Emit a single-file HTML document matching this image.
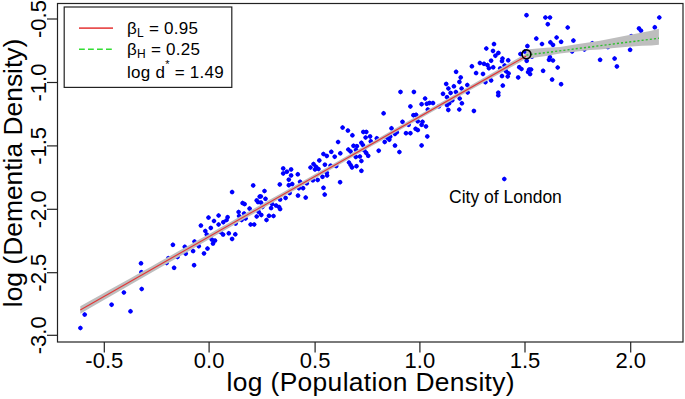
<!DOCTYPE html>
<html><head><meta charset="utf-8">
<style>
html,body{margin:0;padding:0;background:#fff;}
body{width:685px;height:399px;overflow:hidden;}
svg{display:block;}
text{font-family:"Liberation Sans",sans-serif;fill:#000;}
</style></head>
<body>
<svg width="685" height="399" viewBox="0 0 685 399">
<rect x="0" y="0" width="685" height="399" fill="#fff"/>
<!-- DOTS -->
<g id="dots" fill="#0000ff"><path d="M87.20 314.6L86.32 316.22L84.7 317.10L83.08 316.22L82.20 314.6L83.08 312.98L84.7 312.10L86.32 312.98ZM82.90 328.0L82.02 329.62L80.4 330.50L78.78 329.62L77.90 328.0L78.78 326.38L80.4 325.50L82.02 326.38ZM114.10 304.7L113.22 306.32L111.6 307.20L109.98 306.32L109.10 304.7L109.98 303.08L111.6 302.20L113.22 303.08ZM126.40 292.5L125.52 294.12L123.9 295.00L122.28 294.12L121.40 292.5L122.28 290.88L123.9 290.00L125.52 290.88ZM133.00 311.3L132.12 312.92L130.5 313.80L128.88 312.92L128.00 311.3L128.88 309.68L130.5 308.80L132.12 309.68ZM144.20 289.0L143.32 290.62L141.7 291.50L140.08 290.62L139.20 289.0L140.08 287.38L141.7 286.50L143.32 287.38ZM143.50 263.3L142.62 264.92L141.0 265.80L139.38 264.92L138.50 263.3L139.38 261.68L141.0 260.80L142.62 261.68ZM143.90 272.2L143.02 273.82L141.4 274.70L139.78 273.82L138.90 272.2L139.78 270.58L141.4 269.70L143.02 270.58ZM170.90 258.2L170.02 259.82L168.4 260.70L166.78 259.82L165.90 258.2L166.78 256.58L168.4 255.70L170.02 256.58ZM169.10 262.9L168.22 264.52L166.6 265.40L164.98 264.52L164.10 262.9L164.98 261.28L166.6 260.40L168.22 261.28ZM176.60 267.8L175.72 269.42L174.1 270.30L172.48 269.42L171.60 267.8L172.48 266.18L174.1 265.30L175.72 266.18ZM175.40 244.8L174.52 246.42L172.9 247.30L171.28 246.42L170.40 244.8L171.28 243.18L172.9 242.30L174.52 243.18ZM180.00 256.9L179.12 258.52L177.5 259.40L175.88 258.52L175.00 256.9L175.88 255.28L177.5 254.40L179.12 255.28ZM187.30 246.8L186.42 248.42L184.8 249.30L183.18 248.42L182.30 246.8L183.18 245.18L184.8 244.30L186.42 245.18ZM188.20 253.7L187.32 255.32L185.7 256.20L184.08 255.32L183.20 253.7L184.08 252.08L185.7 251.20L187.32 252.08ZM195.60 251.1L194.72 252.72L193.1 253.60L191.48 252.72L190.60 251.1L191.48 249.48L193.1 248.60L194.72 249.48ZM196.60 265.2L195.72 266.82L194.1 267.70L192.48 266.82L191.60 265.2L192.48 263.58L194.1 262.70L195.72 263.58ZM197.00 241.5L196.12 243.12L194.5 244.00L192.88 243.12L192.00 241.5L192.88 239.88L194.5 239.00L196.12 239.88ZM201.30 246.2L200.42 247.82L198.8 248.70L197.18 247.82L196.30 246.2L197.18 244.58L198.8 243.70L200.42 244.58ZM206.50 253.4L205.62 255.02L204.0 255.90L202.38 255.02L201.50 253.4L202.38 251.78L204.0 250.90L205.62 251.78ZM210.00 248.6L209.12 250.22L207.5 251.10L205.88 250.22L205.00 248.6L205.88 246.98L207.5 246.10L209.12 246.98ZM203.40 225.6L202.52 227.22L200.9 228.10L199.28 227.22L198.40 225.6L199.28 223.98L200.9 223.10L202.52 223.98ZM207.80 231.0L206.92 232.62L205.3 233.50L203.68 232.62L202.80 231.0L203.68 229.38L205.3 228.50L206.92 229.38ZM211.00 217.6L210.12 219.22L208.5 220.10L206.88 219.22L206.00 217.6L206.88 215.98L208.5 215.10L210.12 215.98ZM213.30 227.9L212.42 229.52L210.8 230.40L209.18 229.52L208.30 227.9L209.18 226.28L210.8 225.40L212.42 226.28ZM216.50 221.0L215.62 222.62L214.0 223.50L212.38 222.62L211.50 221.0L212.38 219.38L214.0 218.50L215.62 219.38ZM221.10 215.5L220.22 217.12L218.6 218.00L216.98 217.12L216.10 215.5L216.98 213.88L218.6 213.00L220.22 213.88ZM221.10 224.5L220.22 226.12L218.6 227.00L216.98 226.12L216.10 224.5L216.98 222.88L218.6 222.00L220.22 222.88ZM225.80 222.2L224.92 223.82L223.3 224.70L221.68 223.82L220.80 222.2L221.68 220.58L223.3 219.70L224.92 220.58ZM229.10 220.0L228.22 221.62L226.6 222.50L224.98 221.62L224.10 220.0L224.98 218.38L226.6 217.50L228.22 218.38ZM230.10 217.2L229.22 218.82L227.6 219.70L225.98 218.82L225.10 217.2L225.98 215.58L227.6 214.70L229.22 215.58ZM209.30 234.6L208.42 236.22L206.8 237.10L205.18 236.22L204.30 234.6L205.18 232.98L206.8 232.10L208.42 232.98ZM214.30 239.6L213.42 241.22L211.8 242.10L210.18 241.22L209.30 239.6L210.18 237.98L211.8 237.10L213.42 237.98ZM217.50 240.6L216.62 242.22L215.0 243.10L213.38 242.22L212.50 240.6L213.38 238.98L215.0 238.10L216.62 238.98ZM215.50 243.6L214.62 245.22L213.0 246.10L211.38 245.22L210.50 243.6L211.38 241.98L213.0 241.10L214.62 241.98ZM222.90 232.0L222.02 233.62L220.4 234.50L218.78 233.62L217.90 232.0L218.78 230.38L220.4 229.50L222.02 230.38ZM225.60 234.6L224.72 236.22L223.1 237.10L221.48 236.22L220.60 234.6L221.48 232.98L223.1 232.10L224.72 232.98ZM231.30 233.3L230.42 234.92L228.8 235.80L227.18 234.92L226.30 233.3L227.18 231.68L228.8 230.80L230.42 231.68ZM234.60 238.9L233.72 240.52L232.1 241.40L230.48 240.52L229.60 238.9L230.48 237.28L232.1 236.40L233.72 237.28ZM237.80 234.3L236.92 235.92L235.3 236.80L233.68 235.92L232.80 234.3L233.68 232.68L235.3 231.80L236.92 232.68ZM238.10 223.6L237.22 225.22L235.6 226.10L233.98 225.22L233.10 223.6L233.98 221.98L235.6 221.10L237.22 221.98ZM241.10 212.0L240.22 213.62L238.6 214.50L236.98 213.62L236.10 212.0L236.98 210.38L238.6 209.50L240.22 210.38ZM241.60 216.0L240.72 217.62L239.1 218.50L237.48 217.62L236.60 216.0L237.48 214.38L239.1 213.50L240.72 214.38ZM244.10 220.0L243.22 221.62L241.6 222.50L239.98 221.62L239.10 220.0L239.98 218.38L241.6 217.50L243.22 218.38ZM246.60 213.5L245.72 215.12L244.1 216.00L242.48 215.12L241.60 213.5L242.48 211.88L244.1 211.00L245.72 211.88ZM248.10 218.5L247.22 220.12L245.6 221.00L243.98 220.12L243.10 218.5L243.98 216.88L245.6 216.00L247.22 216.88ZM253.10 224.5L252.22 226.12L250.6 227.00L248.98 226.12L248.10 224.5L248.98 222.88L250.6 222.00L252.22 222.88ZM256.70 224.5L255.82 226.12L254.2 227.00L252.58 226.12L251.70 224.5L252.58 222.88L254.2 222.00L255.82 222.88ZM259.20 216.5L258.32 218.12L256.7 219.00L255.08 218.12L254.20 216.5L255.08 214.88L256.7 214.00L258.32 214.88ZM261.20 211.9L260.32 213.52L258.7 214.40L257.08 213.52L256.20 211.9L257.08 210.28L258.7 209.40L260.32 210.28ZM234.60 192.1L233.72 193.72L232.1 194.60L230.48 193.72L229.60 192.1L230.48 190.48L232.1 189.60L233.72 190.48ZM255.70 185.4L254.82 187.02L253.2 187.90L251.58 187.02L250.70 185.4L251.58 183.78L253.2 182.90L254.82 183.78ZM245.10 203.1L244.22 204.72L242.6 205.60L240.98 204.72L240.10 203.1L240.98 201.48L242.6 200.60L244.22 201.48ZM247.10 204.1L246.22 205.72L244.6 206.60L242.98 205.72L242.10 204.1L242.98 202.48L244.6 201.60L246.22 202.48ZM252.10 208.6L251.22 210.22L249.6 211.10L247.98 210.22L247.10 208.6L247.98 206.98L249.6 206.10L251.22 206.98ZM259.20 200.4L258.32 202.02L256.7 202.90L255.08 202.02L254.20 200.4L255.08 198.78L256.7 197.90L258.32 198.78ZM260.50 202.1L259.62 203.72L258.0 204.60L256.38 203.72L255.50 202.1L256.38 200.48L258.0 199.60L259.62 200.48ZM262.20 196.6L261.32 198.22L259.7 199.10L258.08 198.22L257.20 196.6L258.08 194.98L259.7 194.10L261.32 194.98ZM269.00 220.0L268.12 221.62L266.5 222.50L264.88 221.62L264.00 220.0L264.88 218.38L266.5 217.50L268.12 218.38ZM271.50 215.8L270.62 217.42L269.0 218.30L267.38 217.42L266.50 215.8L267.38 214.18L269.0 213.30L270.62 214.18ZM276.00 216.0L275.12 217.62L273.5 218.50L271.88 217.62L271.00 216.0L271.88 214.38L273.5 213.50L275.12 214.38ZM267.00 191.0L266.12 192.62L264.5 193.50L262.88 192.62L262.00 191.0L262.88 189.38L264.5 188.50L266.12 189.38ZM263.30 196.4L262.42 198.02L260.8 198.90L259.18 198.02L258.30 196.4L259.18 194.78L260.8 193.90L262.42 194.78ZM268.00 198.8L267.12 200.42L265.5 201.30L263.88 200.42L263.00 198.8L263.88 197.18L265.5 196.30L267.12 197.18ZM263.50 202.6L262.62 204.22L261.0 205.10L259.38 204.22L258.50 202.6L259.38 200.98L261.0 200.10L262.62 200.98ZM263.80 214.9L262.92 216.52L261.3 217.40L259.68 216.52L258.80 214.9L259.68 213.28L261.3 212.40L262.92 213.28ZM273.60 208.1L272.72 209.72L271.1 210.60L269.48 209.72L268.60 208.1L269.48 206.48L271.1 205.60L272.72 206.48ZM274.60 204.1L273.72 205.72L272.1 206.60L270.48 205.72L269.60 204.1L270.48 202.48L272.1 201.60L273.72 202.48ZM278.60 205.6L277.72 207.22L276.1 208.10L274.48 207.22L273.60 205.6L274.48 203.98L276.1 203.10L277.72 203.98ZM281.60 207.1L280.72 208.72L279.1 209.60L277.48 208.72L276.60 207.1L277.48 205.48L279.1 204.60L280.72 205.48ZM282.60 209.1L281.72 210.72L280.1 211.60L278.48 210.72L277.60 209.1L278.48 207.48L280.1 206.60L281.72 207.48ZM282.60 199.6L281.72 201.22L280.1 202.10L278.48 201.22L277.60 199.6L278.48 197.98L280.1 197.10L281.72 197.98ZM288.10 197.9L287.22 199.52L285.6 200.40L283.98 199.52L283.10 197.9L283.98 196.28L285.6 195.40L287.22 196.28ZM292.10 193.1L291.22 194.72L289.6 195.60L287.98 194.72L287.10 193.1L287.98 191.48L289.6 190.60L291.22 191.48ZM300.50 195.6L299.62 197.22L298.0 198.10L296.38 197.22L295.50 195.6L296.38 193.98L298.0 193.10L299.62 193.98ZM308.20 197.6L307.32 199.22L305.7 200.10L304.08 199.22L303.20 197.6L304.08 195.98L305.7 195.10L307.32 195.98ZM285.70 168.4L284.82 170.02L283.2 170.90L281.58 170.02L280.70 168.4L281.58 166.78L283.2 165.90L284.82 166.78ZM293.60 169.4L292.72 171.02L291.1 171.90L289.48 171.02L288.60 169.4L289.48 167.78L291.1 166.90L292.72 167.78ZM285.70 173.4L284.82 175.02L283.2 175.90L281.58 175.02L280.70 173.4L281.58 171.78L283.2 170.90L284.82 171.78ZM289.40 171.7L288.52 173.32L286.9 174.20L285.28 173.32L284.40 171.7L285.28 170.08L286.9 169.20L288.52 170.08ZM293.60 175.4L292.72 177.02L291.1 177.90L289.48 177.02L288.60 175.4L289.48 173.78L291.1 172.90L292.72 173.78ZM300.30 174.3L299.42 175.92L297.8 176.80L296.18 175.92L295.30 174.3L296.18 172.68L297.8 171.80L299.42 172.68ZM291.30 179.7L290.42 181.32L288.8 182.20L287.18 181.32L286.30 179.7L287.18 178.08L288.8 177.20L290.42 178.08ZM282.30 184.4L281.42 186.02L279.8 186.90L278.18 186.02L277.30 184.4L278.18 182.78L279.8 181.90L281.42 182.78ZM291.30 185.2L290.42 186.82L288.8 187.70L287.18 186.82L286.30 185.2L287.18 183.58L288.8 182.70L290.42 183.58ZM294.70 184.1L293.82 185.72L292.2 186.60L290.58 185.72L289.70 184.1L290.58 182.48L292.2 181.60L293.82 182.48ZM302.60 181.8L301.72 183.42L300.1 184.30L298.48 183.42L297.60 181.8L298.48 180.18L300.1 179.30L301.72 180.18ZM301.40 188.2L300.52 189.82L298.9 190.70L297.28 189.82L296.40 188.2L297.28 186.58L298.9 185.70L300.52 186.58ZM305.60 188.2L304.72 189.82L303.1 190.70L301.48 189.82L300.60 188.2L301.48 186.58L303.1 185.70L304.72 186.58ZM309.30 183.3L308.42 184.92L306.8 185.80L305.18 184.92L304.30 183.3L305.18 181.68L306.8 180.80L308.42 181.68ZM315.40 180.3L314.52 181.92L312.9 182.80L311.28 181.92L310.40 180.3L311.28 178.68L312.9 177.80L314.52 178.68ZM320.20 179.9L319.32 181.52L317.7 182.40L316.08 181.52L315.20 179.9L316.08 178.28L317.7 177.40L319.32 178.28ZM264.90 207.0L264.02 208.62L262.4 209.50L260.78 208.62L259.90 207.0L260.78 205.38L262.4 204.50L264.02 205.38ZM325.00 176.8L324.12 178.42L322.5 179.30L320.88 178.42L320.00 176.8L320.88 175.18L322.5 174.30L324.12 175.18ZM329.60 175.5L328.72 177.12L327.1 178.00L325.48 177.12L324.60 175.5L325.48 173.88L327.1 173.00L328.72 173.88ZM326.00 187.8L325.12 189.42L323.5 190.30L321.88 189.42L321.00 187.8L321.88 186.18L323.5 185.30L325.12 186.18ZM327.20 194.6L326.32 196.22L324.7 197.10L323.08 196.22L322.20 194.6L323.08 192.98L324.7 192.10L326.32 192.98ZM342.60 182.2L341.72 183.82L340.1 184.70L338.48 183.82L337.60 182.2L338.48 180.58L340.1 179.70L341.72 180.58ZM325.90 154.0L325.02 155.62L323.4 156.50L321.78 155.62L320.90 154.0L321.78 152.38L323.4 151.50L325.02 152.38ZM329.30 155.9L328.42 157.52L326.8 158.40L325.18 157.52L324.30 155.9L325.18 154.28L326.8 153.40L328.42 154.28ZM333.80 151.8L332.92 153.42L331.3 154.30L329.68 153.42L328.80 151.8L329.68 150.18L331.3 149.30L332.92 150.18ZM337.20 156.7L336.32 158.32L334.7 159.20L333.08 158.32L332.20 156.7L333.08 155.08L334.7 154.20L336.32 155.08ZM342.80 153.3L341.92 154.92L340.3 155.80L338.68 154.92L337.80 153.3L338.68 151.68L340.3 150.80L341.92 151.68ZM321.80 160.4L320.92 162.02L319.3 162.90L317.68 162.02L316.80 160.4L317.68 158.78L319.3 157.90L320.92 158.78ZM327.40 164.7L326.52 166.32L324.9 167.20L323.28 166.32L322.40 164.7L323.28 163.08L324.9 162.20L326.52 163.08ZM316.00 164.0L315.12 165.62L313.5 166.50L311.88 165.62L311.00 164.0L311.88 162.38L313.5 161.50L315.12 162.38ZM313.00 167.5L312.12 169.12L310.5 170.00L308.88 169.12L308.00 167.5L308.88 165.88L310.5 165.00L312.12 165.88ZM317.50 169.5L316.62 171.12L315.0 172.00L313.38 171.12L312.50 169.5L313.38 167.88L315.0 167.00L316.62 167.88ZM321.00 169.0L320.12 170.62L318.5 171.50L316.88 170.62L316.00 169.0L316.88 167.38L318.5 166.50L320.12 167.38ZM333.10 165.7L332.22 167.32L330.6 168.20L328.98 167.32L328.10 165.7L328.98 164.08L330.6 163.20L332.22 164.08ZM338.70 166.1L337.82 167.72L336.2 168.60L334.58 167.72L333.70 166.1L334.58 164.48L336.2 163.60L337.82 164.48ZM329.30 172.8L328.42 174.42L326.8 175.30L325.18 174.42L324.30 172.8L325.18 171.18L326.8 170.30L328.42 171.18ZM340.60 142.0L339.72 143.62L338.1 144.50L336.48 143.62L335.60 142.0L336.48 140.38L338.1 139.50L339.72 140.38ZM350.40 130.6L349.52 132.22L347.9 133.10L346.28 132.22L345.40 130.6L346.28 128.98L347.9 128.10L349.52 128.98ZM354.90 135.3L354.02 136.92L352.4 137.80L350.78 136.92L349.90 135.3L350.78 133.68L352.4 132.80L354.02 133.68ZM365.80 131.9L364.92 133.52L363.3 134.40L361.68 133.52L360.80 131.9L361.68 130.28L363.3 129.40L364.92 130.28ZM368.80 131.9L367.92 133.52L366.3 134.40L364.68 133.52L363.80 131.9L364.68 130.28L366.3 129.40L367.92 130.28ZM368.10 137.5L367.22 139.12L365.6 140.00L363.98 139.12L363.10 137.5L363.98 135.88L365.6 135.00L367.22 135.88ZM372.60 136.4L371.72 138.02L370.1 138.90L368.48 138.02L367.60 136.4L368.48 134.78L370.1 133.90L371.72 134.78ZM373.30 141.3L372.42 142.92L370.8 143.80L369.18 142.92L368.30 141.3L369.18 139.68L370.8 138.80L372.42 139.68ZM379.30 138.3L378.42 139.92L376.8 140.80L375.18 139.92L374.30 138.3L375.18 136.68L376.8 135.80L378.42 136.68ZM363.90 142.8L363.02 144.42L361.4 145.30L359.78 144.42L358.90 142.8L359.78 141.18L361.4 140.30L363.02 141.18ZM365.40 145.0L364.52 146.62L362.9 147.50L361.28 146.62L360.40 145.0L361.28 143.38L362.9 142.50L364.52 143.38ZM356.00 145.8L355.12 147.42L353.5 148.30L351.88 147.42L351.00 145.8L351.88 144.18L353.5 143.30L355.12 144.18ZM359.40 146.2L358.52 147.82L356.9 148.70L355.28 147.82L354.40 146.2L355.28 144.58L356.9 143.70L358.52 144.58ZM350.80 149.5L349.92 151.12L348.3 152.00L346.68 151.12L345.80 149.5L346.68 147.88L348.3 147.00L349.92 147.88ZM353.00 151.4L352.12 153.02L350.5 153.90L348.88 153.02L348.00 151.4L348.88 149.78L350.5 148.90L352.12 149.78ZM366.80 150.5L365.92 152.12L364.3 153.00L362.68 152.12L361.80 150.5L362.68 148.88L364.3 148.00L365.92 148.88ZM381.20 150.7L380.32 152.32L378.7 153.20L377.08 152.32L376.20 150.7L377.08 149.08L378.7 148.20L380.32 149.08ZM351.50 162.5L350.62 164.12L349.0 165.00L347.38 164.12L346.50 162.5L347.38 160.88L349.0 160.00L350.62 160.88ZM354.50 167.4L353.62 169.02L352.0 169.90L350.38 169.02L349.50 167.4L350.38 165.78L352.0 164.90L353.62 165.78ZM359.00 166.2L358.12 167.82L356.5 168.70L354.88 167.82L354.00 166.2L354.88 164.58L356.5 163.70L358.12 164.58ZM363.90 170.8L363.02 172.42L361.4 173.30L359.78 172.42L358.90 170.8L359.78 169.18L361.4 168.30L363.02 169.18ZM358.30 156.9L357.42 158.52L355.8 159.40L354.18 158.52L353.30 156.9L354.18 155.28L355.8 154.40L357.42 155.28ZM362.40 156.5L361.52 158.12L359.9 159.00L358.28 158.12L357.40 156.5L358.28 154.88L359.9 154.00L361.52 154.88ZM363.90 161.0L363.02 162.62L361.4 163.50L359.78 162.62L358.90 161.0L359.78 159.38L361.4 158.50L363.02 159.38ZM370.70 155.8L369.82 157.42L368.2 158.30L366.58 157.42L365.70 155.8L366.58 154.18L368.2 153.30L369.82 154.18ZM387.20 141.9L386.32 143.52L384.7 144.40L383.08 143.52L382.20 141.9L383.08 140.28L384.7 139.40L386.32 140.28ZM390.00 138.0L389.12 139.62L387.5 140.50L385.88 139.62L385.00 138.0L385.88 136.38L387.5 135.50L389.12 136.38ZM392.70 136.7L391.82 138.32L390.2 139.20L388.58 138.32L387.70 136.7L388.58 135.08L390.2 134.20L391.82 135.08ZM391.80 139.7L390.92 141.32L389.3 142.20L387.68 141.32L386.80 139.7L387.68 138.08L389.3 137.20L390.92 138.08ZM394.00 128.3L393.12 129.92L391.5 130.80L389.88 129.92L389.00 128.3L389.88 126.68L391.5 125.80L393.12 126.68ZM397.50 134.0L396.62 135.62L395.0 136.50L393.38 135.62L392.50 134.0L393.38 132.38L395.0 131.50L396.62 132.38ZM399.30 132.3L398.42 133.92L396.8 134.80L395.18 133.92L394.30 132.3L395.18 130.68L396.8 129.80L398.42 130.68ZM397.50 145.6L396.62 147.22L395.0 148.10L393.38 147.22L392.50 145.6L393.38 143.98L395.0 143.10L396.62 143.98ZM401.90 152.0L401.02 153.62L399.4 154.50L397.78 153.62L396.90 152.0L397.78 150.38L399.4 149.50L401.02 150.38ZM405.00 121.8L404.12 123.42L402.5 124.30L400.88 123.42L400.00 121.8L400.88 120.18L402.5 119.30L404.12 120.18ZM408.50 133.2L407.62 134.82L406.0 135.70L404.38 134.82L403.50 133.2L404.38 131.58L406.0 130.70L407.62 131.58ZM412.90 133.2L412.02 134.82L410.4 135.70L408.78 134.82L407.90 133.2L408.78 131.58L410.4 130.70L412.02 131.58ZM411.10 124.8L410.22 126.42L408.6 127.30L406.98 126.42L406.10 124.8L406.98 123.18L408.6 122.30L410.22 123.18ZM418.10 128.8L417.22 130.42L415.6 131.30L413.98 130.42L413.10 128.8L413.98 127.18L415.6 126.30L417.22 127.18ZM420.30 130.1L419.42 131.72L417.8 132.60L416.18 131.72L415.30 130.1L416.18 128.48L417.8 127.60L419.42 128.48ZM420.30 121.3L419.42 122.92L417.8 123.80L416.18 122.92L415.30 121.3L416.18 119.68L417.8 118.80L419.42 119.68ZM424.10 145.4L423.22 147.02L421.6 147.90L419.98 147.02L419.10 145.4L419.98 143.78L421.6 142.90L423.22 143.78ZM403.00 91.9L402.12 93.52L400.5 94.40L398.88 93.52L398.00 91.9L398.88 90.28L400.5 89.40L402.12 90.28ZM416.40 91.9L415.52 93.52L413.9 94.40L412.28 93.52L411.40 91.9L412.28 90.28L413.9 89.40L415.52 90.28ZM412.90 106.4L412.02 108.02L410.4 108.90L408.78 108.02L407.90 106.4L408.78 104.78L410.4 103.90L412.02 104.78ZM386.10 113.3L385.22 114.92L383.6 115.80L381.98 114.92L381.10 113.3L381.98 111.68L383.6 110.80L385.22 111.68ZM415.90 115.2L415.02 116.82L413.4 117.70L411.78 116.82L410.90 115.2L411.78 113.58L413.4 112.70L415.02 113.58ZM418.60 114.8L417.72 116.42L416.1 117.30L414.48 116.42L413.60 114.8L414.48 113.18L416.1 112.30L417.72 113.18ZM427.60 98.5L426.72 100.12L425.1 101.00L423.48 100.12L422.60 98.5L423.48 96.88L425.1 96.00L426.72 96.88ZM424.10 104.2L423.22 105.82L421.6 106.70L419.98 105.82L419.10 104.2L419.98 102.58L421.6 101.70L423.22 102.58ZM429.30 103.8L428.42 105.42L426.8 106.30L425.18 105.42L424.30 103.8L425.18 102.18L426.8 101.30L428.42 102.18ZM432.00 102.9L431.12 104.52L429.5 105.40L427.88 104.52L427.00 102.9L427.88 101.28L429.5 100.40L431.12 101.28ZM435.50 103.1L434.62 104.72L433.0 105.60L431.38 104.72L430.50 103.1L431.38 101.48L433.0 100.60L434.62 101.48ZM430.30 109.6L429.42 111.22L427.8 112.10L426.18 111.22L425.30 109.6L426.18 107.98L427.8 107.10L429.42 107.98ZM441.40 106.3L440.52 107.92L438.9 108.80L437.28 107.92L436.40 106.3L437.28 104.68L438.9 103.80L440.52 104.68ZM449.50 97.2L448.62 98.82L447.0 99.70L445.38 98.82L444.50 97.2L445.38 95.58L447.0 94.70L448.62 95.58ZM451.70 103.3L450.82 104.92L449.2 105.80L447.58 104.92L446.70 103.3L447.58 101.68L449.2 100.80L450.82 101.68ZM449.50 105.1L448.62 106.72L447.0 107.60L445.38 106.72L444.50 105.1L445.38 103.48L447.0 102.60L448.62 103.48ZM450.80 109.9L449.92 111.52L448.3 112.40L446.68 111.52L445.80 109.9L446.68 108.28L448.3 107.40L449.92 108.28ZM454.80 100.3L453.92 101.92L452.3 102.80L450.68 101.92L449.80 100.3L450.68 98.68L452.3 97.80L453.92 98.68ZM462.20 98.5L461.32 100.12L459.7 101.00L458.08 100.12L457.20 98.5L458.08 96.88L459.7 96.00L461.32 96.88ZM464.40 103.3L463.52 104.92L461.9 105.80L460.28 104.92L459.40 103.3L460.28 101.68L461.9 100.80L463.52 101.68ZM461.80 109.5L460.92 111.12L459.3 112.00L457.68 111.12L456.80 109.5L457.68 107.88L459.3 107.00L460.92 107.88ZM425.00 121.8L424.12 123.42L422.5 124.30L420.88 123.42L420.00 121.8L420.88 120.18L422.5 119.30L424.12 120.18ZM424.10 124.8L423.22 126.42L421.6 127.30L419.98 126.42L419.10 124.8L419.98 123.18L421.6 122.30L423.22 123.18ZM428.50 126.4L427.62 128.02L426.0 128.90L424.38 128.02L423.50 126.4L424.38 124.78L426.0 123.90L427.62 124.78ZM429.80 136.4L428.92 138.02L427.3 138.90L425.68 138.02L424.80 136.4L425.68 134.78L427.3 133.90L428.92 134.78ZM458.60 71.8L457.72 73.42L456.1 74.30L454.48 73.42L453.60 71.8L454.48 70.18L456.1 69.30L457.72 70.18ZM463.20 77.4L462.32 79.02L460.7 79.90L459.08 79.02L458.20 77.4L459.08 75.78L460.7 74.90L462.32 75.78ZM461.90 81.9L461.02 83.52L459.4 84.40L457.78 83.52L456.90 81.9L457.78 80.28L459.4 79.40L461.02 80.28ZM448.70 83.9L447.82 85.52L446.2 86.40L444.58 85.52L443.70 83.9L444.58 82.28L446.2 81.40L447.82 82.28ZM450.90 88.5L450.02 90.12L448.4 91.00L446.78 90.12L445.90 88.5L446.78 86.88L448.4 86.00L450.02 86.88ZM456.40 86.3L455.52 87.92L453.9 88.80L452.28 87.92L451.40 86.3L452.28 84.68L453.9 83.80L455.52 84.68ZM464.10 88.5L463.22 90.12L461.6 91.00L459.98 90.12L459.10 88.5L459.98 86.88L461.6 86.00L463.22 86.88ZM469.80 85.0L468.92 86.62L467.3 87.50L465.68 86.62L464.80 85.0L465.68 83.38L467.3 82.50L468.92 83.38ZM445.50 93.8L444.62 95.42L443.0 96.30L441.38 95.42L440.50 93.8L441.38 92.18L443.0 91.30L444.62 92.18ZM453.10 92.9L452.22 94.52L450.6 95.40L448.98 94.52L448.10 92.9L448.98 91.28L450.6 90.40L452.22 91.28ZM458.40 92.0L457.52 93.62L455.9 94.50L454.28 93.62L453.40 92.0L454.28 90.38L455.9 89.50L457.52 90.38ZM470.20 92.5L469.32 94.12L467.7 95.00L466.08 94.12L465.20 92.5L466.08 90.88L467.7 90.00L469.32 90.88ZM474.40 66.3L473.52 67.92L471.9 68.80L470.28 67.92L469.40 66.3L470.28 64.68L471.9 63.80L473.52 64.68ZM478.60 73.1L477.72 74.72L476.1 75.60L474.48 74.72L473.60 73.1L474.48 71.48L476.1 70.60L477.72 71.48ZM482.40 63.0L481.52 64.62L479.9 65.50L478.28 64.62L477.40 63.0L478.28 61.38L479.9 60.50L481.52 61.38ZM476.40 110.9L475.52 112.52L473.9 113.40L472.28 112.52L471.40 110.9L472.28 109.28L473.9 108.40L475.52 109.28ZM500.80 92.7L499.92 94.32L498.3 95.20L496.68 94.32L495.80 92.7L496.68 91.08L498.3 90.20L499.92 91.08ZM500.80 95.3L499.92 96.92L498.3 97.80L496.68 96.92L495.80 95.3L496.68 93.68L498.3 92.80L499.92 93.68ZM505.30 85.6L504.42 87.22L502.8 88.10L501.18 87.22L500.30 85.6L501.18 83.98L502.8 83.10L504.42 83.98ZM485.50 73.9L484.62 75.52L483.0 76.40L481.38 75.52L480.50 73.9L481.38 72.28L483.0 71.40L484.62 72.28ZM486.50 63.8L485.62 65.42L484.0 66.30L482.38 65.42L481.50 63.8L482.38 62.18L484.0 61.30L485.62 62.18ZM490.00 65.1L489.12 66.72L487.5 67.60L485.88 66.72L485.00 65.1L485.88 63.48L487.5 62.60L489.12 63.48ZM491.40 68.2L490.52 69.82L488.9 70.70L487.28 69.82L486.40 68.2L487.28 66.58L488.9 65.70L490.52 66.58ZM495.70 67.3L494.82 68.92L493.2 69.80L491.58 68.92L490.70 67.3L491.58 65.68L493.2 64.80L494.82 65.68ZM493.60 60.7L492.72 62.32L491.1 63.20L489.48 62.32L488.60 60.7L489.48 59.08L491.1 58.20L492.72 59.08ZM497.90 55.7L497.02 57.32L495.4 58.20L493.78 57.32L492.90 55.7L493.78 54.08L495.4 53.20L497.02 54.08ZM505.00 58.5L504.12 60.12L502.5 61.00L500.88 60.12L500.00 58.5L500.88 56.88L502.5 56.00L504.12 56.88ZM504.50 61.1L503.62 62.72L502.0 63.60L500.38 62.72L499.50 61.1L500.38 59.48L502.0 58.60L503.62 59.48ZM510.70 60.3L509.82 61.92L508.2 62.80L506.58 61.92L505.70 60.3L506.58 58.68L508.2 57.80L509.82 58.68ZM502.70 68.4L501.82 70.02L500.2 70.90L498.58 70.02L497.70 68.4L498.58 66.78L500.2 65.90L501.82 66.78ZM507.10 65.6L506.22 67.22L504.6 68.10L502.98 67.22L502.10 65.6L502.98 63.98L504.6 63.10L506.22 63.98ZM487.90 82.2L487.02 83.82L485.4 84.70L483.78 83.82L482.90 82.2L483.78 80.58L485.4 79.70L487.02 80.58ZM493.60 80.4L492.72 82.02L491.1 82.90L489.48 82.02L488.60 80.4L489.48 78.78L491.1 77.90L492.72 78.78ZM504.50 76.1L503.62 77.72L502.0 78.60L500.38 77.72L499.50 76.1L500.38 74.48L502.0 73.60L503.62 74.48ZM508.50 71.2L507.62 72.82L506.0 73.70L504.38 72.82L503.50 71.2L504.38 69.58L506.0 68.70L507.62 69.58ZM511.10 73.4L510.22 75.02L508.6 75.90L506.98 75.02L506.10 73.4L506.98 71.78L508.6 70.90L510.22 71.78ZM510.20 76.5L509.32 78.12L507.7 79.00L506.08 78.12L505.20 76.5L506.08 74.88L507.7 74.00L509.32 74.88ZM521.70 67.2L520.82 68.82L519.2 69.70L517.58 68.82L516.70 67.2L517.58 65.58L519.2 64.70L520.82 65.58ZM520.70 77.4L519.82 79.02L518.2 79.90L516.58 79.02L515.70 77.4L516.58 75.78L518.2 74.90L519.82 75.78ZM496.50 44.1L495.62 45.72L494.0 46.60L492.38 45.72L491.50 44.1L492.38 42.48L494.0 41.60L495.62 42.48ZM488.80 48.5L487.92 50.12L486.3 51.00L484.68 50.12L483.80 48.5L484.68 46.88L486.3 46.00L487.92 46.88ZM495.50 50.9L494.62 52.52L493.0 53.40L491.38 52.52L490.50 50.9L491.38 49.28L493.0 48.40L494.62 49.28ZM500.90 52.9L500.02 54.52L498.4 55.40L496.78 54.52L495.90 52.9L496.78 51.28L498.4 50.40L500.02 51.28ZM529.90 46.1L529.02 47.72L527.4 48.60L525.78 47.72L524.90 46.1L525.78 44.48L527.4 43.60L529.02 44.48ZM522.90 54.0L522.02 55.62L520.4 56.50L518.78 55.62L517.90 54.0L518.78 52.38L520.4 51.50L522.02 52.38ZM527.30 51.6L526.42 53.22L524.8 54.10L523.18 53.22L522.30 51.6L523.18 49.98L524.8 49.10L526.42 49.98ZM529.00 15.2L528.12 16.82L526.5 17.70L524.88 16.82L524.00 15.2L524.88 13.58L526.5 12.70L528.12 13.58ZM538.80 38.6L537.92 40.22L536.3 41.10L534.68 40.22L533.80 38.6L534.68 36.98L536.3 36.10L537.92 36.98ZM544.50 44.0L543.62 45.62L542.0 46.50L540.38 45.62L539.50 44.0L540.38 42.38L542.0 41.50L543.62 42.38ZM552.90 42.3L552.02 43.92L550.4 44.80L548.78 43.92L547.90 42.3L548.78 40.68L550.4 39.80L552.02 40.68ZM555.50 44.9L554.62 46.52L553.0 47.40L551.38 46.52L550.50 44.9L551.38 43.28L553.0 42.40L554.62 43.28ZM559.10 37.5L558.22 39.12L556.6 40.00L554.98 39.12L554.10 37.5L554.98 35.88L556.6 35.00L558.22 35.88ZM529.20 60.8L528.32 62.42L526.7 63.30L525.08 62.42L524.20 60.8L525.08 59.18L526.7 58.30L528.32 59.18ZM534.50 56.6L533.62 58.22L532.0 59.10L530.38 58.22L529.50 56.6L530.38 54.98L532.0 54.10L533.62 54.98ZM552.40 57.2L551.52 58.82L549.9 59.70L548.28 58.82L547.40 57.2L548.28 55.58L549.9 54.70L551.52 55.58ZM551.50 59.8L550.62 61.42L549.0 62.30L547.38 61.42L546.50 59.8L547.38 58.18L549.0 57.30L550.62 58.18ZM555.50 60.5L554.62 62.12L553.0 63.00L551.38 62.12L550.50 60.5L551.38 58.88L553.0 58.00L554.62 58.88ZM547.90 17.5L547.02 19.12L545.4 20.00L543.78 19.12L542.90 17.5L543.78 15.88L545.4 15.00L547.02 15.88ZM552.50 17.5L551.62 19.12L550.0 20.00L548.38 19.12L547.50 17.5L548.38 15.88L550.0 15.00L551.62 15.88ZM550.30 24.2L549.42 25.82L547.8 26.70L546.18 25.82L545.30 24.2L546.18 22.58L547.8 21.70L549.42 22.58ZM570.20 27.5L569.32 29.12L567.7 30.00L566.08 29.12L565.20 27.5L566.08 25.88L567.7 25.00L569.32 25.88ZM563.60 41.8L562.72 43.42L561.1 44.30L559.48 43.42L558.60 41.8L559.48 40.18L561.1 39.30L562.72 40.18ZM575.90 40.6L575.02 42.22L573.4 43.10L571.78 42.22L570.90 40.6L571.78 38.98L573.4 38.10L575.02 38.98ZM594.80 43.3L593.92 44.92L592.3 45.80L590.68 44.92L589.80 43.3L590.68 41.68L592.3 40.80L593.92 41.68ZM574.60 51.5L573.72 53.12L572.1 54.00L570.48 53.12L569.60 51.5L570.48 49.88L572.1 49.00L573.72 49.88ZM586.90 49.5L586.02 51.12L584.4 52.00L582.78 51.12L581.90 49.5L582.78 47.88L584.4 47.00L586.02 47.88ZM602.60 59.8L601.72 61.42L600.1 62.30L598.48 61.42L597.60 59.8L598.48 58.18L600.1 57.30L601.72 58.18ZM610.40 47.1L609.52 48.72L607.9 49.60L606.28 48.72L605.40 47.1L606.28 45.48L607.9 44.60L609.52 45.48ZM617.10 58.6L616.22 60.22L614.6 61.10L612.98 60.22L612.10 58.6L612.98 56.98L614.6 56.10L616.22 56.98ZM619.40 66.4L618.52 68.02L616.9 68.90L615.28 68.02L614.40 66.4L615.28 64.78L616.9 63.90L618.52 64.78ZM632.60 49.8L631.72 51.42L630.1 52.30L628.48 51.42L627.60 49.8L628.48 48.18L630.1 47.30L631.72 48.18ZM661.80 17.5L660.92 19.12L659.3 20.00L657.68 19.12L656.80 17.5L657.68 15.88L659.3 15.00L660.92 15.88ZM657.30 27.3L656.42 28.92L654.8 29.80L653.18 28.92L652.30 27.3L653.18 25.68L654.8 24.80L656.42 25.68ZM641.50 28.4L640.62 30.02L639.0 30.90L637.38 30.02L636.50 28.4L637.38 26.78L639.0 25.90L640.62 26.78ZM643.50 30.7L642.62 32.32L641.0 33.20L639.38 32.32L638.50 30.7L639.38 29.08L641.0 28.20L642.62 29.08ZM633.80 36.2L632.92 37.82L631.3 38.70L629.68 37.82L628.80 36.2L629.68 34.58L631.3 33.70L632.92 34.58ZM524.00 69.0L523.12 70.62L521.5 71.50L519.88 70.62L519.00 69.0L519.88 67.38L521.5 66.50L523.12 67.38ZM531.60 69.5L530.72 71.12L529.1 72.00L527.48 71.12L526.60 69.5L527.48 67.88L529.1 67.00L530.72 67.88ZM533.60 69.5L532.72 71.12L531.1 72.00L529.48 71.12L528.60 69.5L529.48 67.88L531.1 67.00L532.72 67.88ZM530.60 72.1L529.72 73.72L528.1 74.60L526.48 73.72L525.60 72.1L526.48 70.48L528.1 69.60L529.72 70.48ZM532.60 74.1L531.72 75.72L530.1 76.60L528.48 75.72L527.60 74.1L528.48 72.48L530.1 71.60L531.72 72.48ZM545.60 70.8L544.72 72.42L543.1 73.30L541.48 72.42L540.60 70.8L541.48 69.18L543.1 68.30L544.72 69.18ZM560.20 67.5L559.32 69.12L557.7 70.00L556.08 69.12L555.20 67.5L556.08 65.88L557.7 65.00L559.32 65.88ZM554.60 79.6L553.72 81.22L552.1 82.10L550.48 81.22L549.60 79.6L550.48 77.98L552.1 77.10L553.72 77.98ZM563.60 84.2L562.72 85.82L561.1 86.70L559.48 85.82L558.60 84.2L559.48 82.58L561.1 81.70L562.72 82.58ZM506.80 179.0L505.92 180.62L504.3 181.50L502.68 180.62L501.80 179.0L502.68 177.38L504.3 176.50L505.92 177.38ZM345.10 127.6L344.22 129.22L342.6 130.10L340.98 129.22L340.10 127.6L340.98 125.98L342.6 125.10L344.22 125.98ZM318.50 166.8L317.62 168.42L316.0 169.30L314.38 168.42L313.50 166.8L314.38 165.18L316.0 164.30L317.62 165.18ZM358.50 149.9L357.62 151.52L356.0 152.40L354.38 151.52L353.50 149.9L354.38 148.28L356.0 147.40L357.62 148.28ZM368.70 152.9L367.82 154.52L366.2 155.40L364.58 154.52L363.70 152.9L364.58 151.28L366.2 150.40L367.82 151.28ZM353.10 165.0L352.22 166.62L350.6 167.50L348.98 166.62L348.10 165.0L348.98 163.38L350.6 162.50L352.22 163.38Z"/></g>
<!-- band -->
<g id="band" fill="#bebebe"><polygon points="80.3,306.28 90.0,300.84 100.0,295.23 110.0,289.61 120.0,284.00 130.0,278.38 140.0,272.77 150.0,267.15 160.0,261.53 170.0,255.91 180.0,250.29 190.0,244.66 200.0,239.04 210.0,233.41 220.0,227.78 230.0,222.15 240.0,216.51 250.0,210.87 260.0,205.23 270.0,199.58 280.0,193.94 290.0,188.28 300.0,182.63 310.0,176.97 320.0,171.30 330.0,165.64 340.0,159.96 350.0,154.29 360.0,148.60 370.0,142.92 380.0,137.22 390.0,131.53 400.0,125.82 410.0,120.12 420.0,114.40 430.0,108.69 440.0,102.96 450.0,97.24 460.0,91.51 470.0,85.77 480.0,80.04 490.0,74.29 500.0,68.55 510.0,62.80 520.0,57.05 526.3,53.42 526.3,58.58 520.0,62.13 510.0,67.77 500.0,73.41 490.0,79.06 480.0,84.71 470.0,90.36 460.0,96.01 450.0,101.67 440.0,107.34 430.0,113.01 420.0,118.68 410.0,124.36 400.0,130.04 390.0,135.73 380.0,141.42 370.0,147.12 360.0,152.82 350.0,158.53 340.0,164.24 330.0,169.96 320.0,175.68 310.0,181.40 300.0,187.13 290.0,192.87 280.0,198.61 270.0,204.35 260.0,210.09 250.0,215.84 240.0,221.59 230.0,227.35 220.0,233.10 210.0,238.86 200.0,244.62 190.0,250.39 180.0,256.15 170.0,261.92 160.0,267.69 150.0,273.46 140.0,279.23 130.0,285.01 120.0,290.78 110.0,296.56 100.0,302.34 90.0,308.11 80.3,313.72"/><polygon points="526.3,49.6 532,49.0 546,47.8 560,46.9 575,44.4 590,42.2 600,40.8 614,38.1 628,35.3 642,32.5 651.4,30.8 658.9,28.7 658.9,44.8 651.4,45.4 642,45.7 628,46.7 614,47.9 600,49.4 590,50.1 575,51.7 560,53.4 546,56.0 532,58.0 526.3,58.7"/></g>
<!-- lines -->
<line x1="80.3" y1="310.0" x2="526.3" y2="56.0" stroke="#e23636" stroke-width="1.15"/>
<line x1="526.3" y1="55.1" x2="658.9" y2="38.2" stroke="#2fbf2f" stroke-width="1.4" stroke-dasharray="2.1,2.05"/>
<circle cx="526.4" cy="54.3" r="4.45" fill="none" stroke="#000" stroke-width="1.7"/>
<!-- City of London -->
<text x="449" y="203.2" font-size="17.5">City of London</text>
<!-- axes box -->
<rect x="57.5" y="3.5" width="625.5" height="338.5" fill="none" stroke="#222" stroke-width="1.2"/>
<!-- x ticks -->
<g stroke="#222" stroke-width="1.2">
<line x1="104.3" y1="342" x2="104.3" y2="352.4"/>
<line x1="209.1" y1="342" x2="209.1" y2="352.4"/>
<line x1="315.1" y1="342" x2="315.1" y2="352.4"/>
<line x1="419.9" y1="342" x2="419.9" y2="352.4"/>
<line x1="525.0" y1="342" x2="525.0" y2="352.4"/>
<line x1="630.7" y1="342" x2="630.7" y2="352.4"/>
<line x1="47" y1="19.0" x2="57.5" y2="19.0"/>
<line x1="47" y1="82.5" x2="57.5" y2="82.5"/>
<line x1="47" y1="145.9" x2="57.5" y2="145.9"/>
<line x1="47" y1="209.3" x2="57.5" y2="209.3"/>
<line x1="47" y1="272.7" x2="57.5" y2="272.7"/>
<line x1="47" y1="335.3" x2="57.5" y2="335.3"/>
</g>
<g font-size="22" text-anchor="middle">
<text x="104.3" y="368.2">-0.5</text>
<text x="209.1" y="368.2">0.0</text>
<text x="315.1" y="368.2">0.5</text>
<text x="419.9" y="368.2">1.0</text>
<text x="525.0" y="368.2">1.5</text>
<text x="630.7" y="368.2">2.0</text>
</g>
<g font-size="22" text-anchor="middle">
<text transform="translate(46.2,19.0) rotate(-90)">-0.5</text>
<text transform="translate(46.2,82.5) rotate(-90)">-1.0</text>
<text transform="translate(46.2,145.9) rotate(-90)">-1.5</text>
<text transform="translate(46.2,209.3) rotate(-90)">-2.0</text>
<text transform="translate(46.2,272.7) rotate(-90)">-2.5</text>
<text transform="translate(46.2,335.3) rotate(-90)">-3.0</text>
</g>
<text x="226.6" y="391.3" font-size="26.4" textLength="288" lengthAdjust="spacing">log (Population Density)</text>
<text transform="translate(22.3,307.2) rotate(-90)" font-size="26.4" textLength="268.5" lengthAdjust="spacing">log (Dementia Density)</text>
<!-- legend -->
<rect x="64.2" y="7.0" width="167.6" height="80.4" fill="#fff" stroke="#222" stroke-width="1.2"/>
<line x1="79" y1="28.2" x2="113" y2="28.2" stroke="#e85050" stroke-width="1.7"/>
<line x1="79" y1="49.2" x2="112" y2="49.2" stroke="#33dd33" stroke-width="1.6" stroke-dasharray="5.8,3.2"/>
<g font-size="17" letter-spacing="0.25">
<text x="127" y="34">β<tspan font-size="12" dy="3">L</tspan><tspan dy="-3"> = 0.95</tspan></text>
<text x="127" y="55">β<tspan font-size="12" dy="3">H</tspan><tspan dy="-3"> = 0.25</tspan></text>
<text x="127" y="77.5">log d<tspan font-size="11" dy="-10">*</tspan><tspan dy="10"> = 1.49</tspan></text>
</g>
</svg>
</body></html>
